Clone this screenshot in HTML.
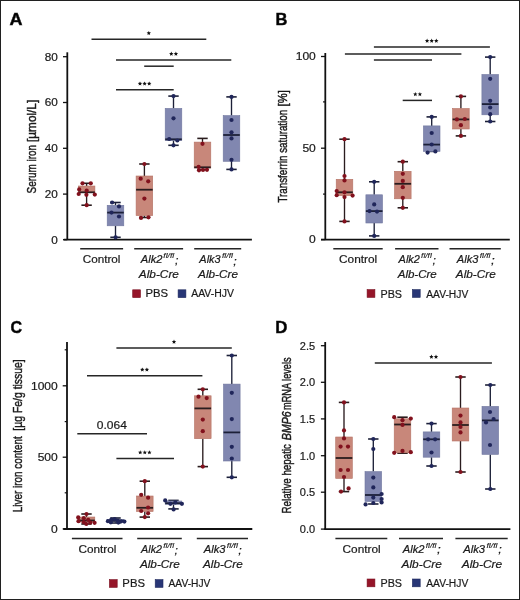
<!DOCTYPE html>
<html><head><meta charset="utf-8"><style>
html,body{margin:0;padding:0;background:#fff;}
body{width:520px;height:600px;overflow:hidden;}
svg{display:block;font-family:"Liberation Sans", sans-serif;}
svg{will-change:transform;}
text{stroke:#1a1a1a;stroke-width:0.2px;}
</style></head><body>
<svg width="520" height="600" viewBox="0 0 520 600">
<rect x="0" y="0" width="520" height="600" fill="#fff"/>
<text transform="translate(9.61,25.00) scale(1.0892,1.0000)" font-size="16.5" font-weight="bold" style="stroke-width:0.5px" fill="#000">A</text>
<line x1="67.3" y1="52.3" x2="67.3" y2="239.7" stroke="#111111" stroke-width="1.8"/>
<line x1="63.0" y1="56.7" x2="67.3" y2="56.7" stroke="#111111" stroke-width="1.3"/>
<line x1="63.0" y1="102.5" x2="67.3" y2="102.5" stroke="#111111" stroke-width="1.3"/>
<line x1="63.0" y1="148.3" x2="67.3" y2="148.3" stroke="#111111" stroke-width="1.3"/>
<line x1="63.0" y1="194.1" x2="67.3" y2="194.1" stroke="#111111" stroke-width="1.3"/>
<line x1="63.0" y1="239.7" x2="67.3" y2="239.7" stroke="#111111" stroke-width="1.3"/>
<text transform="translate(57.69,60.65) scale(1.12,1)" font-size="10.5" text-anchor="end" fill="#1a1a1a">80</text>
<text transform="translate(57.69,106.45) scale(1.12,1)" font-size="10.5" text-anchor="end" fill="#1a1a1a">60</text>
<text transform="translate(57.69,152.25) scale(1.12,1)" font-size="10.5" text-anchor="end" fill="#1a1a1a">40</text>
<text transform="translate(57.69,198.05) scale(1.12,1)" font-size="10.5" text-anchor="end" fill="#1a1a1a">20</text>
<text transform="translate(57.69,243.65) scale(1.12,1)" font-size="10.5" text-anchor="end" fill="#1a1a1a">0</text>
<line x1="63.8" y1="239.7" x2="251.9" y2="239.7" stroke="#111111" stroke-width="1.8"/>
<text transform="translate(36.00,193.43) rotate(-90) scale(0.7362,1.0000)" font-size="13.5" style="stroke-width:0.45px" fill="#1a1a1a">Serum iron</text>
<text transform="translate(36.00,142.00) rotate(-90) scale(0.8744,1.0000)" font-size="13.5" style="stroke-width:0.45px" fill="#1a1a1a">[µmol/L]</text>
<line x1="91.5" y1="39.3" x2="206.3" y2="39.3" stroke="#262626" stroke-width="1.5"/>
<polygon points="148.80,30.90 149.42,32.35 150.99,32.49 149.80,33.52 150.15,35.06 148.80,34.25 147.45,35.06 147.80,33.52 146.61,32.49 148.18,32.35" fill="#111"/>
<line x1="116" y1="60" x2="231.3" y2="60" stroke="#262626" stroke-width="1.5"/>
<polygon points="171.30,51.60 171.92,53.05 173.49,53.19 172.30,54.22 172.65,55.76 171.30,54.95 169.95,55.76 170.30,54.22 169.11,53.19 170.68,53.05" fill="#111"/>
<polygon points="175.90,51.60 176.52,53.05 178.09,53.19 176.90,54.22 177.25,55.76 175.90,54.95 174.55,55.76 174.90,54.22 173.71,53.19 175.28,53.05" fill="#111"/>
<line x1="144.2" y1="66.2" x2="173.7" y2="66.2" stroke="#262626" stroke-width="1.5"/>
<line x1="116" y1="89.8" x2="173.7" y2="89.8" stroke="#262626" stroke-width="1.5"/>
<polygon points="140.00,81.40 140.62,82.85 142.19,82.99 141.00,84.02 141.35,85.56 140.00,84.75 138.65,85.56 139.00,84.02 137.81,82.99 139.38,82.85" fill="#111"/>
<polygon points="144.60,81.40 145.22,82.85 146.79,82.99 145.60,84.02 145.95,85.56 144.60,84.75 143.25,85.56 143.60,84.02 142.41,82.99 143.98,82.85" fill="#111"/>
<polygon points="149.20,81.40 149.82,82.85 151.39,82.99 150.20,84.02 150.55,85.56 149.20,84.75 147.85,85.56 148.20,84.02 147.01,82.99 148.58,82.85" fill="#111"/>
<line x1="86.6" y1="183.3" x2="86.6" y2="186" stroke="#2a1c1e" stroke-width="1.35"/>
<line x1="86.6" y1="192.3" x2="86.6" y2="205.2" stroke="#2a1c1e" stroke-width="1.35"/>
<line x1="81.39999999999999" y1="183.3" x2="91.8" y2="183.3" stroke="#2a1c1e" stroke-width="1.6"/>
<line x1="81.39999999999999" y1="205.2" x2="91.8" y2="205.2" stroke="#2a1c1e" stroke-width="1.6"/>
<rect x="78.30" y="186" width="16.6" height="6.30" fill="#c8877a" stroke="#b57264" stroke-width="0.6"/>
<line x1="78.3" y1="192.3" x2="94.89999999999999" y2="192.3" stroke="#2a1c1e" stroke-width="1.8"/>
<circle cx="82.5" cy="183.3" r="2.1" fill="#82111d"/>
<circle cx="90.8" cy="183.3" r="2.1" fill="#82111d"/>
<circle cx="79.2" cy="189.4" r="2.1" fill="#82111d"/>
<circle cx="86.7" cy="190.6" r="2.1" fill="#82111d"/>
<circle cx="78.7" cy="194" r="2.1" fill="#82111d"/>
<circle cx="86.4" cy="194.8" r="2.1" fill="#82111d"/>
<circle cx="94.8" cy="194.6" r="2.1" fill="#82111d"/>
<circle cx="86.7" cy="205.2" r="2.1" fill="#82111d"/>
<line x1="115.5" y1="202.5" x2="115.5" y2="205.3" stroke="#1c2038" stroke-width="1.35"/>
<line x1="115.5" y1="225.8" x2="115.5" y2="237.3" stroke="#1c2038" stroke-width="1.35"/>
<line x1="110.3" y1="202.5" x2="120.7" y2="202.5" stroke="#1c2038" stroke-width="1.6"/>
<line x1="110.3" y1="237.3" x2="120.7" y2="237.3" stroke="#1c2038" stroke-width="1.6"/>
<rect x="107.20" y="205.3" width="16.6" height="20.50" fill="#8187b0" stroke="#71779f" stroke-width="0.6"/>
<line x1="107.2" y1="212.6" x2="123.8" y2="212.6" stroke="#1c2038" stroke-width="1.8"/>
<circle cx="112.1" cy="202.5" r="2.1" fill="#20265a"/>
<circle cx="119" cy="206.4" r="2.1" fill="#20265a"/>
<circle cx="111.5" cy="212.6" r="2.1" fill="#20265a"/>
<circle cx="119" cy="216.5" r="2.1" fill="#20265a"/>
<circle cx="115.6" cy="237.3" r="2.1" fill="#20265a"/>
<line x1="144.4" y1="164" x2="144.4" y2="176" stroke="#2a1c1e" stroke-width="1.35"/>
<line x1="144.4" y1="215.6" x2="144.4" y2="217.5" stroke="#2a1c1e" stroke-width="1.35"/>
<line x1="139.20000000000002" y1="164" x2="149.6" y2="164" stroke="#2a1c1e" stroke-width="1.6"/>
<line x1="139.20000000000002" y1="217.5" x2="149.6" y2="217.5" stroke="#2a1c1e" stroke-width="1.6"/>
<rect x="136.10" y="176" width="16.6" height="39.60" fill="#c8877a" stroke="#b57264" stroke-width="0.6"/>
<line x1="136.1" y1="189.7" x2="152.70000000000002" y2="189.7" stroke="#2a1c1e" stroke-width="1.8"/>
<circle cx="144.4" cy="164" r="2.1" fill="#82111d"/>
<circle cx="140.7" cy="178.7" r="2.1" fill="#82111d"/>
<circle cx="148.2" cy="181.3" r="2.1" fill="#82111d"/>
<circle cx="144.4" cy="198.6" r="2.1" fill="#82111d"/>
<circle cx="141" cy="217.9" r="2.1" fill="#82111d"/>
<circle cx="148.5" cy="217.3" r="2.1" fill="#82111d"/>
<line x1="173.5" y1="96.1" x2="173.5" y2="108.4" stroke="#1c2038" stroke-width="1.35"/>
<line x1="173.5" y1="140.6" x2="173.5" y2="145.3" stroke="#1c2038" stroke-width="1.35"/>
<line x1="168.3" y1="96.1" x2="178.7" y2="96.1" stroke="#1c2038" stroke-width="1.6"/>
<line x1="168.3" y1="145.3" x2="178.7" y2="145.3" stroke="#1c2038" stroke-width="1.6"/>
<rect x="165.20" y="108.4" width="16.6" height="32.20" fill="#8187b0" stroke="#71779f" stroke-width="0.6"/>
<line x1="165.2" y1="139.3" x2="181.8" y2="139.3" stroke="#1c2038" stroke-width="1.8"/>
<circle cx="173.5" cy="96.1" r="2.1" fill="#20265a"/>
<circle cx="173.5" cy="118.3" r="2.1" fill="#20265a"/>
<circle cx="169.2" cy="139" r="2.1" fill="#20265a"/>
<circle cx="177.3" cy="140.5" r="2.1" fill="#20265a"/>
<circle cx="173.5" cy="145.3" r="2.1" fill="#20265a"/>
<line x1="202.5" y1="138.4" x2="202.5" y2="142.1" stroke="#2a1c1e" stroke-width="1.35"/>
<line x1="202.5" y1="168" x2="202.5" y2="169.5" stroke="#2a1c1e" stroke-width="1.35"/>
<line x1="197.3" y1="138.4" x2="207.7" y2="138.4" stroke="#2a1c1e" stroke-width="1.6"/>
<line x1="197.3" y1="169.5" x2="207.7" y2="169.5" stroke="#2a1c1e" stroke-width="1.6"/>
<rect x="194.20" y="142.1" width="16.6" height="25.90" fill="#c8877a" stroke="#b57264" stroke-width="0.6"/>
<line x1="194.2" y1="167.3" x2="210.8" y2="167.3" stroke="#2a1c1e" stroke-width="1.8"/>
<circle cx="202.5" cy="143.8" r="2.1" fill="#82111d"/>
<circle cx="198.6" cy="166.8" r="2.1" fill="#82111d"/>
<circle cx="199" cy="170.3" r="2.1" fill="#82111d"/>
<circle cx="203" cy="170" r="2.1" fill="#82111d"/>
<circle cx="207" cy="169.8" r="2.1" fill="#82111d"/>
<line x1="231.5" y1="96.9" x2="231.5" y2="115.6" stroke="#1c2038" stroke-width="1.35"/>
<line x1="231.5" y1="161.3" x2="231.5" y2="169.4" stroke="#1c2038" stroke-width="1.35"/>
<line x1="226.3" y1="96.9" x2="236.7" y2="96.9" stroke="#1c2038" stroke-width="1.6"/>
<line x1="226.3" y1="169.4" x2="236.7" y2="169.4" stroke="#1c2038" stroke-width="1.6"/>
<rect x="223.20" y="115.6" width="16.6" height="45.70" fill="#8187b0" stroke="#71779f" stroke-width="0.6"/>
<line x1="223.2" y1="135" x2="239.8" y2="135" stroke="#1c2038" stroke-width="1.8"/>
<circle cx="231.5" cy="96.9" r="2.1" fill="#20265a"/>
<circle cx="231.5" cy="120" r="2.1" fill="#20265a"/>
<circle cx="231.5" cy="132.3" r="2.1" fill="#20265a"/>
<circle cx="231.5" cy="138.4" r="2.1" fill="#20265a"/>
<circle cx="231.5" cy="159.8" r="2.1" fill="#20265a"/>
<circle cx="231.5" cy="169.4" r="2.1" fill="#20265a"/>
<line x1="80.2" y1="248.8" x2="123.1" y2="248.8" stroke="#262626" stroke-width="1.5"/>
<line x1="134.2" y1="248.8" x2="183.1" y2="248.8" stroke="#262626" stroke-width="1.5"/>
<line x1="194.2" y1="248.8" x2="241.2" y2="248.8" stroke="#262626" stroke-width="1.5"/>
<text transform="translate(82.68,263.41) scale(1.0852,1.0000)" font-size="10.8" fill="#1a1a1a">Control</text>
<text transform="translate(140.79,263.30) scale(1.0347,1.0000)" font-size="10.8" font-style="italic" fill="#1a1a1a">Alk2</text>
<text transform="translate(163.25,258.04) scale(1.2726,1.0000)" font-size="6.8" font-style="italic" style="stroke-width:0.12px" fill="#1a1a1a">fl/fl</text>
<text transform="translate(175.01,263.70) scale(1.1391,1.0000)" font-size="10.8" font-style="italic" fill="#1a1a1a">;</text>
<text transform="translate(199.37,263.30) scale(1.0147,1.0000)" font-size="10.8" font-style="italic" fill="#1a1a1a">Alk3</text>
<text transform="translate(221.94,258.01) scale(1.2724,1.0000)" font-size="6.8" font-style="italic" style="stroke-width:0.12px" fill="#1a1a1a">fl/fl</text>
<text transform="translate(233.32,264.52) scale(1.1372,1.0000)" font-size="10.8" font-style="italic" fill="#1a1a1a">;</text>
<text transform="translate(138.83,277.90) scale(1.0959,1.0000)" font-size="10.8" font-style="italic" fill="#1a1a1a">Alb-Cre</text>
<text transform="translate(198.08,277.90) scale(1.0890,1.0000)" font-size="10.8" font-style="italic" fill="#1a1a1a">Alb-Cre</text>
<text transform="translate(145.50,297.30) scale(1.0465,1.0000)" font-size="10.8" fill="#1a1a1a">PBS</text>
<text transform="translate(191.20,297.30) scale(0.9681,1.0000)" font-size="10.8" fill="#1a1a1a">AAV-HJV</text>
<rect x="132.70000000000002" y="289.8" width="7.800000000000001" height="7.800000000000001" fill="#951529" stroke="#7a0f20" stroke-width="0.6"/>
<rect x="178.10000000000002" y="289.8" width="7.800000000000001" height="7.800000000000001" fill="#283676" stroke="#1f2a5e" stroke-width="0.6"/>
<text transform="translate(275.42,24.50) scale(0.9981,1.0000)" font-size="16.5" font-weight="bold" style="stroke-width:0.5px" fill="#000">B</text>
<line x1="325.3" y1="53" x2="325.3" y2="239.6" stroke="#111111" stroke-width="1.8"/>
<line x1="321.0" y1="56.5" x2="325.3" y2="56.5" stroke="#111111" stroke-width="1.3"/>
<line x1="321.0" y1="148.2" x2="325.3" y2="148.2" stroke="#111111" stroke-width="1.3"/>
<line x1="321.0" y1="239.6" x2="325.3" y2="239.6" stroke="#111111" stroke-width="1.3"/>
<line x1="323.0" y1="101.9" x2="325.3" y2="101.9" stroke="#111111" stroke-width="1.2"/>
<line x1="323.0" y1="194.1" x2="325.3" y2="194.1" stroke="#111111" stroke-width="1.2"/>
<text transform="translate(315.80,59.90) scale(1.15,1)" font-size="10.5" text-anchor="end" fill="#1a1a1a">100</text>
<text transform="translate(315.80,151.60) scale(1.15,1)" font-size="10.5" text-anchor="end" fill="#1a1a1a">50</text>
<text transform="translate(315.80,243.00) scale(1.15,1)" font-size="10.5" text-anchor="end" fill="#1a1a1a">0</text>
<line x1="321" y1="239.6" x2="509.8" y2="239.6" stroke="#111111" stroke-width="1.8"/>
<text transform="translate(287.00,202.55) rotate(-90) scale(0.7266,1.0000)" font-size="13.5" style="stroke-width:0.45px" fill="#1a1a1a">Transferrin saturation</text>
<text transform="translate(287.00,106.39) rotate(-90) scale(0.8310,1.0000)" font-size="13.5" style="stroke-width:0.45px" fill="#1a1a1a">[%]</text>
<line x1="373.9" y1="47" x2="489.9" y2="47" stroke="#262626" stroke-width="1.5"/>
<polygon points="427.10,38.60 427.72,40.05 429.29,40.19 428.10,41.22 428.45,42.76 427.10,41.95 425.75,42.76 426.10,41.22 424.91,40.19 426.48,40.05" fill="#111"/>
<polygon points="431.70,38.60 432.32,40.05 433.89,40.19 432.70,41.22 433.05,42.76 431.70,41.95 430.35,42.76 430.70,41.22 429.51,40.19 431.08,40.05" fill="#111"/>
<polygon points="436.30,38.60 436.92,40.05 438.49,40.19 437.30,41.22 437.65,42.76 436.30,41.95 434.95,42.76 435.30,41.22 434.11,40.19 435.68,40.05" fill="#111"/>
<line x1="344.9" y1="53.9" x2="461.4" y2="53.9" stroke="#262626" stroke-width="1.5"/>
<line x1="373.9" y1="60" x2="432" y2="60" stroke="#262626" stroke-width="1.5"/>
<line x1="402.7" y1="100.4" x2="432" y2="100.4" stroke="#262626" stroke-width="1.5"/>
<polygon points="415.30,92.00 415.92,93.45 417.49,93.59 416.30,94.62 416.65,96.16 415.30,95.35 413.95,96.16 414.30,94.62 413.11,93.59 414.68,93.45" fill="#111"/>
<polygon points="419.90,92.00 420.52,93.45 422.09,93.59 420.90,94.62 421.25,96.16 419.90,95.35 418.55,96.16 418.90,94.62 417.71,93.59 419.28,93.45" fill="#111"/>
<line x1="344.5" y1="139.2" x2="344.5" y2="179.3" stroke="#2a1c1e" stroke-width="1.35"/>
<line x1="344.5" y1="195.6" x2="344.5" y2="221.4" stroke="#2a1c1e" stroke-width="1.35"/>
<line x1="339.3" y1="139.2" x2="349.7" y2="139.2" stroke="#2a1c1e" stroke-width="1.6"/>
<line x1="339.3" y1="221.4" x2="349.7" y2="221.4" stroke="#2a1c1e" stroke-width="1.6"/>
<rect x="336.20" y="179.3" width="16.6" height="16.30" fill="#c8877a" stroke="#b57264" stroke-width="0.6"/>
<line x1="336.2" y1="192.3" x2="352.8" y2="192.3" stroke="#2a1c1e" stroke-width="1.8"/>
<circle cx="344.5" cy="139.2" r="2.1" fill="#82111d"/>
<circle cx="344.5" cy="176" r="2.1" fill="#82111d"/>
<circle cx="344.5" cy="180.4" r="2.1" fill="#82111d"/>
<circle cx="336.7" cy="191" r="2.1" fill="#82111d"/>
<circle cx="344.5" cy="192.3" r="2.1" fill="#82111d"/>
<circle cx="336.7" cy="195.2" r="2.1" fill="#82111d"/>
<circle cx="352.6" cy="195.6" r="2.1" fill="#82111d"/>
<circle cx="344.5" cy="197.1" r="2.1" fill="#82111d"/>
<circle cx="344.5" cy="221.4" r="2.1" fill="#82111d"/>
<line x1="374.2" y1="181.8" x2="374.2" y2="194.8" stroke="#1c2038" stroke-width="1.35"/>
<line x1="374.2" y1="223" x2="374.2" y2="235.9" stroke="#1c2038" stroke-width="1.35"/>
<line x1="369.0" y1="181.8" x2="379.4" y2="181.8" stroke="#1c2038" stroke-width="1.6"/>
<line x1="369.0" y1="235.9" x2="379.4" y2="235.9" stroke="#1c2038" stroke-width="1.6"/>
<rect x="365.90" y="194.8" width="16.6" height="28.20" fill="#8187b0" stroke="#71779f" stroke-width="0.6"/>
<line x1="365.9" y1="211.1" x2="382.5" y2="211.1" stroke="#1c2038" stroke-width="1.8"/>
<circle cx="374.2" cy="181.8" r="2.1" fill="#20265a"/>
<circle cx="374.2" cy="204.4" r="2.1" fill="#20265a"/>
<circle cx="369.5" cy="211.1" r="2.1" fill="#20265a"/>
<circle cx="377" cy="211.6" r="2.1" fill="#20265a"/>
<circle cx="374.2" cy="235.9" r="2.1" fill="#20265a"/>
<line x1="402.8" y1="161.7" x2="402.8" y2="171.3" stroke="#2a1c1e" stroke-width="1.35"/>
<line x1="402.8" y1="198.8" x2="402.8" y2="207.8" stroke="#2a1c1e" stroke-width="1.35"/>
<line x1="397.6" y1="161.7" x2="408.0" y2="161.7" stroke="#2a1c1e" stroke-width="1.6"/>
<line x1="397.6" y1="207.8" x2="408.0" y2="207.8" stroke="#2a1c1e" stroke-width="1.6"/>
<rect x="394.50" y="171.3" width="16.6" height="27.50" fill="#c8877a" stroke="#b57264" stroke-width="0.6"/>
<line x1="394.5" y1="183.8" x2="411.1" y2="183.8" stroke="#2a1c1e" stroke-width="1.8"/>
<circle cx="402.8" cy="161.7" r="2.1" fill="#82111d"/>
<circle cx="402.8" cy="173.8" r="2.1" fill="#82111d"/>
<circle cx="402.8" cy="180.9" r="2.1" fill="#82111d"/>
<circle cx="402.8" cy="187.2" r="2.1" fill="#82111d"/>
<circle cx="402.8" cy="197.8" r="2.1" fill="#82111d"/>
<circle cx="402.8" cy="207.8" r="2.1" fill="#82111d"/>
<line x1="431.7" y1="116.9" x2="431.7" y2="125.9" stroke="#1c2038" stroke-width="1.35"/>
<line x1="431.7" y1="151.4" x2="431.7" y2="151.4" stroke="#1c2038" stroke-width="1.35"/>
<line x1="426.5" y1="116.9" x2="436.9" y2="116.9" stroke="#1c2038" stroke-width="1.6"/>
<line x1="426.5" y1="151.4" x2="436.9" y2="151.4" stroke="#1c2038" stroke-width="1.6"/>
<rect x="423.40" y="125.9" width="16.6" height="25.50" fill="#8187b0" stroke="#71779f" stroke-width="0.6"/>
<line x1="423.4" y1="144.6" x2="440.0" y2="144.6" stroke="#1c2038" stroke-width="1.8"/>
<circle cx="431.7" cy="116.9" r="2.1" fill="#20265a"/>
<circle cx="431.7" cy="133" r="2.1" fill="#20265a"/>
<circle cx="431.7" cy="144.5" r="2.1" fill="#20265a"/>
<circle cx="427.6" cy="152.6" r="2.1" fill="#20265a"/>
<circle cx="435.4" cy="151.4" r="2.1" fill="#20265a"/>
<line x1="460.9" y1="96.4" x2="460.9" y2="108.5" stroke="#2a1c1e" stroke-width="1.35"/>
<line x1="460.9" y1="129" x2="460.9" y2="135.9" stroke="#2a1c1e" stroke-width="1.35"/>
<line x1="455.7" y1="96.4" x2="466.09999999999997" y2="96.4" stroke="#2a1c1e" stroke-width="1.6"/>
<line x1="455.7" y1="135.9" x2="466.09999999999997" y2="135.9" stroke="#2a1c1e" stroke-width="1.6"/>
<rect x="452.60" y="108.5" width="16.6" height="20.50" fill="#c8877a" stroke="#b57264" stroke-width="0.6"/>
<line x1="452.59999999999997" y1="119.4" x2="469.2" y2="119.4" stroke="#2a1c1e" stroke-width="1.8"/>
<circle cx="460.9" cy="96.4" r="2.1" fill="#82111d"/>
<circle cx="456.9" cy="119.4" r="2.1" fill="#82111d"/>
<circle cx="464.8" cy="119" r="2.1" fill="#82111d"/>
<circle cx="460.9" cy="125.2" r="2.1" fill="#82111d"/>
<circle cx="460.9" cy="135.9" r="2.1" fill="#82111d"/>
<line x1="490.2" y1="57.1" x2="490.2" y2="74.5" stroke="#1c2038" stroke-width="1.35"/>
<line x1="490.2" y1="114.8" x2="490.2" y2="121.5" stroke="#1c2038" stroke-width="1.35"/>
<line x1="485.0" y1="57.1" x2="495.4" y2="57.1" stroke="#1c2038" stroke-width="1.6"/>
<line x1="485.0" y1="121.5" x2="495.4" y2="121.5" stroke="#1c2038" stroke-width="1.6"/>
<rect x="481.90" y="74.5" width="16.6" height="40.30" fill="#8187b0" stroke="#71779f" stroke-width="0.6"/>
<line x1="481.9" y1="104.1" x2="498.5" y2="104.1" stroke="#1c2038" stroke-width="1.8"/>
<circle cx="490.2" cy="57.1" r="2.1" fill="#20265a"/>
<circle cx="490.2" cy="78.8" r="2.1" fill="#20265a"/>
<circle cx="490.2" cy="100.8" r="2.1" fill="#20265a"/>
<circle cx="490.2" cy="107.5" r="2.1" fill="#20265a"/>
<circle cx="490.2" cy="114.2" r="2.1" fill="#20265a"/>
<circle cx="490.2" cy="121.5" r="2.1" fill="#20265a"/>
<line x1="333.3" y1="248.7" x2="382.7" y2="248.7" stroke="#262626" stroke-width="1.5"/>
<line x1="395.1" y1="248.7" x2="438.5" y2="248.7" stroke="#262626" stroke-width="1.5"/>
<line x1="449.5" y1="248.7" x2="500.8" y2="248.7" stroke="#262626" stroke-width="1.5"/>
<text transform="translate(339.01,263.13) scale(1.0972,1.0000)" font-size="10.8" fill="#1a1a1a">Control</text>
<text transform="translate(398.61,263.30) scale(1.0147,1.0000)" font-size="10.8" font-style="italic" fill="#1a1a1a">Alk2</text>
<text transform="translate(421.04,257.96) scale(1.2392,1.0000)" font-size="6.8" font-style="italic" style="stroke-width:0.12px" fill="#1a1a1a">fl/fl</text>
<text transform="translate(432.39,264.49) scale(1.1292,1.0000)" font-size="10.8" font-style="italic" fill="#1a1a1a">;</text>
<text transform="translate(456.78,263.30) scale(1.0312,1.0000)" font-size="10.8" font-style="italic" fill="#1a1a1a">Alk3</text>
<text transform="translate(479.63,258.06) scale(1.2543,1.0000)" font-size="6.8" font-style="italic" style="stroke-width:0.12px" fill="#1a1a1a">fl/fl</text>
<text transform="translate(491.08,263.76) scale(1.2251,1.0000)" font-size="10.8" font-style="italic" fill="#1a1a1a">;</text>
<text transform="translate(397.70,277.90) scale(1.0675,1.0000)" font-size="10.8" font-style="italic" fill="#1a1a1a">Alb-Cre</text>
<text transform="translate(455.87,277.90) scale(1.0895,1.0000)" font-size="10.8" font-style="italic" fill="#1a1a1a">Alb-Cre</text>
<text transform="translate(380.50,297.50) scale(0.9970,1.0000)" font-size="10.8" fill="#1a1a1a">PBS</text>
<text transform="translate(426.22,297.50) scale(0.9527,1.0000)" font-size="10.8" fill="#1a1a1a">AAV-HJV</text>
<rect x="367.1" y="289.6" width="7.800000000000001" height="7.800000000000001" fill="#951529" stroke="#7a0f20" stroke-width="0.6"/>
<rect x="412.40000000000003" y="289.6" width="7.800000000000001" height="7.800000000000001" fill="#283676" stroke="#1f2a5e" stroke-width="0.6"/>
<text transform="translate(10.49,332.95) scale(0.9687,1.0000)" font-size="16.5" font-weight="bold" style="stroke-width:0.5px" fill="#000">C</text>
<line x1="67" y1="342" x2="67" y2="529" stroke="#111111" stroke-width="1.8"/>
<line x1="62.7" y1="385.8" x2="67" y2="385.8" stroke="#111111" stroke-width="1.3"/>
<line x1="62.7" y1="457.2" x2="67" y2="457.2" stroke="#111111" stroke-width="1.3"/>
<line x1="62.7" y1="528.9" x2="67" y2="528.9" stroke="#111111" stroke-width="1.3"/>
<line x1="64.7" y1="349.8" x2="67" y2="349.8" stroke="#111111" stroke-width="1.2"/>
<line x1="64.7" y1="421.6" x2="67" y2="421.6" stroke="#111111" stroke-width="1.2"/>
<line x1="64.7" y1="492.8" x2="67" y2="492.8" stroke="#111111" stroke-width="1.2"/>
<text transform="translate(57.73,389.70) scale(1.147,1)" font-size="10.5" text-anchor="end" fill="#1a1a1a">1000</text>
<text transform="translate(57.73,461.10) scale(1.147,1)" font-size="10.5" text-anchor="end" fill="#1a1a1a">500</text>
<text transform="translate(57.73,532.80) scale(1.147,1)" font-size="10.5" text-anchor="end" fill="#1a1a1a">0</text>
<line x1="63.3" y1="529" x2="252.3" y2="529" stroke="#111111" stroke-width="1.8"/>
<text transform="translate(22.10,512.16) rotate(-90) scale(0.7324,1.0000)" font-size="13.5" style="stroke-width:0.45px" fill="#1a1a1a">Liver iron content</text>
<text transform="translate(22.10,430.66) rotate(-90) scale(0.7717,1.0000)" font-size="13.5" style="stroke-width:0.45px" fill="#1a1a1a">[µg Fe/g tissue]</text>
<line x1="116.4" y1="348" x2="231.8" y2="348" stroke="#262626" stroke-width="1.5"/>
<polygon points="174.00,339.60 174.62,341.05 176.19,341.19 175.00,342.22 175.35,343.76 174.00,342.95 172.65,343.76 173.00,342.22 171.81,341.19 173.38,341.05" fill="#111"/>
<line x1="87" y1="375.8" x2="202.4" y2="375.8" stroke="#262626" stroke-width="1.5"/>
<polygon points="142.30,367.40 142.92,368.85 144.49,368.99 143.30,370.02 143.65,371.56 142.30,370.75 140.95,371.56 141.30,370.02 140.11,368.99 141.68,368.85" fill="#111"/>
<polygon points="146.90,367.40 147.52,368.85 149.09,368.99 147.90,370.02 148.25,371.56 146.90,370.75 145.55,371.56 145.90,370.02 144.71,368.99 146.28,368.85" fill="#111"/>
<line x1="77.3" y1="433.8" x2="147" y2="433.8" stroke="#262626" stroke-width="1.5"/>
<text transform="translate(96.82,429.14) scale(1.1144,1.0000)" font-size="10.8" fill="#1a1a1a">0.064</text>
<line x1="116.4" y1="458.6" x2="174" y2="458.6" stroke="#262626" stroke-width="1.5"/>
<polygon points="140.20,450.20 140.82,451.65 142.39,451.79 141.20,452.82 141.55,454.36 140.20,453.55 138.85,454.36 139.20,452.82 138.01,451.79 139.58,451.65" fill="#111"/>
<polygon points="144.80,450.20 145.42,451.65 146.99,451.79 145.80,452.82 146.15,454.36 144.80,453.55 143.45,454.36 143.80,452.82 142.61,451.79 144.18,451.65" fill="#111"/>
<polygon points="149.40,450.20 150.02,451.65 151.59,451.79 150.40,452.82 150.75,454.36 149.40,453.55 148.05,454.36 148.40,452.82 147.21,451.79 148.78,451.65" fill="#111"/>
<line x1="86.5" y1="514" x2="86.5" y2="517" stroke="#2a1c1e" stroke-width="1.35"/>
<line x1="86.5" y1="522" x2="86.5" y2="524" stroke="#2a1c1e" stroke-width="1.35"/>
<line x1="81.3" y1="514" x2="91.7" y2="514" stroke="#2a1c1e" stroke-width="1.6"/>
<line x1="81.3" y1="524" x2="91.7" y2="524" stroke="#2a1c1e" stroke-width="1.6"/>
<rect x="78.20" y="517" width="16.6" height="5.00" fill="#c8877a" stroke="#b57264" stroke-width="0.6"/>
<line x1="78.2" y1="520.5" x2="94.8" y2="520.5" stroke="#2a1c1e" stroke-width="1.8"/>
<circle cx="86.5" cy="514" r="2.1" fill="#82111d"/>
<circle cx="78.2" cy="517.4" r="2.1" fill="#82111d"/>
<circle cx="78.5" cy="521.2" r="2.1" fill="#82111d"/>
<circle cx="83.8" cy="518.2" r="2.1" fill="#82111d"/>
<circle cx="83.8" cy="522.2" r="2.1" fill="#82111d"/>
<circle cx="88.2" cy="519.8" r="2.1" fill="#82111d"/>
<circle cx="90.3" cy="522.6" r="2.1" fill="#82111d"/>
<circle cx="94.6" cy="522.8" r="2.1" fill="#82111d"/>
<circle cx="86.3" cy="524" r="2.1" fill="#82111d"/>
<line x1="115.5" y1="518" x2="115.5" y2="519.5" stroke="#1c2038" stroke-width="1.35"/>
<line x1="115.5" y1="522" x2="115.5" y2="523" stroke="#1c2038" stroke-width="1.35"/>
<line x1="110.3" y1="518" x2="120.7" y2="518" stroke="#1c2038" stroke-width="1.6"/>
<line x1="110.3" y1="523" x2="120.7" y2="523" stroke="#1c2038" stroke-width="1.6"/>
<rect x="107.20" y="519.5" width="16.6" height="2.50" fill="#8187b0" stroke="#71779f" stroke-width="0.6"/>
<line x1="107.2" y1="520.8" x2="123.8" y2="520.8" stroke="#1c2038" stroke-width="1.8"/>
<circle cx="107.9" cy="521.2" r="2.1" fill="#20265a"/>
<circle cx="111.3" cy="519.6" r="2.1" fill="#20265a"/>
<circle cx="114.7" cy="519.2" r="2.1" fill="#20265a"/>
<circle cx="117.8" cy="520.5" r="2.1" fill="#20265a"/>
<circle cx="121.2" cy="521.3" r="2.1" fill="#20265a"/>
<circle cx="124.4" cy="521.6" r="2.1" fill="#20265a"/>
<circle cx="110.8" cy="522.3" r="2.1" fill="#20265a"/>
<circle cx="118.3" cy="522.6" r="2.1" fill="#20265a"/>
<line x1="144.8" y1="481.2" x2="144.8" y2="496" stroke="#2a1c1e" stroke-width="1.35"/>
<line x1="144.8" y1="511.5" x2="144.8" y2="517.1" stroke="#2a1c1e" stroke-width="1.35"/>
<line x1="139.60000000000002" y1="481.2" x2="150.0" y2="481.2" stroke="#2a1c1e" stroke-width="1.6"/>
<line x1="139.60000000000002" y1="517.1" x2="150.0" y2="517.1" stroke="#2a1c1e" stroke-width="1.6"/>
<rect x="136.50" y="496" width="16.6" height="15.50" fill="#c8877a" stroke="#b57264" stroke-width="0.6"/>
<line x1="136.5" y1="507.8" x2="153.10000000000002" y2="507.8" stroke="#2a1c1e" stroke-width="1.8"/>
<circle cx="144.8" cy="481.2" r="2.1" fill="#82111d"/>
<circle cx="141.2" cy="494.8" r="2.1" fill="#82111d"/>
<circle cx="148.1" cy="497.7" r="2.1" fill="#82111d"/>
<circle cx="148.1" cy="507.5" r="2.1" fill="#82111d"/>
<circle cx="141.2" cy="511" r="2.1" fill="#82111d"/>
<circle cx="148.1" cy="513.3" r="2.1" fill="#82111d"/>
<circle cx="144.8" cy="517.1" r="2.1" fill="#82111d"/>
<line x1="173.5" y1="500.4" x2="173.5" y2="501" stroke="#1c2038" stroke-width="1.35"/>
<line x1="173.5" y1="504.3" x2="173.5" y2="508.9" stroke="#1c2038" stroke-width="1.35"/>
<line x1="168.3" y1="500.4" x2="178.7" y2="500.4" stroke="#1c2038" stroke-width="1.6"/>
<line x1="168.3" y1="508.9" x2="178.7" y2="508.9" stroke="#1c2038" stroke-width="1.6"/>
<rect x="165.20" y="501" width="16.6" height="3.30" fill="#8187b0" stroke="#71779f" stroke-width="0.6"/>
<line x1="165.2" y1="503.2" x2="181.8" y2="503.2" stroke="#1c2038" stroke-width="1.8"/>
<circle cx="165.2" cy="500.4" r="2.1" fill="#20265a"/>
<circle cx="170.4" cy="503.8" r="2.1" fill="#20265a"/>
<circle cx="175.3" cy="502.4" r="2.1" fill="#20265a"/>
<circle cx="181.9" cy="503.8" r="2.1" fill="#20265a"/>
<circle cx="173.6" cy="509.4" r="2.1" fill="#20265a"/>
<line x1="202.8" y1="389.3" x2="202.8" y2="395.8" stroke="#2a1c1e" stroke-width="1.35"/>
<line x1="202.8" y1="438.7" x2="202.8" y2="466.6" stroke="#2a1c1e" stroke-width="1.35"/>
<line x1="197.60000000000002" y1="389.3" x2="208.0" y2="389.3" stroke="#2a1c1e" stroke-width="1.6"/>
<line x1="197.60000000000002" y1="466.6" x2="208.0" y2="466.6" stroke="#2a1c1e" stroke-width="1.6"/>
<rect x="194.50" y="395.8" width="16.6" height="42.90" fill="#c8877a" stroke="#b57264" stroke-width="0.6"/>
<line x1="194.5" y1="408.4" x2="211.10000000000002" y2="408.4" stroke="#2a1c1e" stroke-width="1.8"/>
<circle cx="202.8" cy="389.3" r="2.1" fill="#82111d"/>
<circle cx="198.5" cy="396.7" r="2.1" fill="#82111d"/>
<circle cx="206.7" cy="398.1" r="2.1" fill="#82111d"/>
<circle cx="202.8" cy="419.6" r="2.1" fill="#82111d"/>
<circle cx="202.8" cy="431.2" r="2.1" fill="#82111d"/>
<circle cx="202.8" cy="466.6" r="2.1" fill="#82111d"/>
<line x1="231.8" y1="355.5" x2="231.8" y2="384.1" stroke="#1c2038" stroke-width="1.35"/>
<line x1="231.8" y1="461" x2="231.8" y2="477.3" stroke="#1c2038" stroke-width="1.35"/>
<line x1="226.60000000000002" y1="355.5" x2="237.0" y2="355.5" stroke="#1c2038" stroke-width="1.6"/>
<line x1="226.60000000000002" y1="477.3" x2="237.0" y2="477.3" stroke="#1c2038" stroke-width="1.6"/>
<rect x="223.50" y="384.1" width="16.6" height="76.90" fill="#8187b0" stroke="#71779f" stroke-width="0.6"/>
<line x1="223.5" y1="432.4" x2="240.10000000000002" y2="432.4" stroke="#1c2038" stroke-width="1.8"/>
<circle cx="231.8" cy="355.5" r="2.1" fill="#20265a"/>
<circle cx="231.8" cy="392.8" r="2.1" fill="#20265a"/>
<circle cx="231.8" cy="419.1" r="2.1" fill="#20265a"/>
<circle cx="231.8" cy="446.8" r="2.1" fill="#20265a"/>
<circle cx="231.8" cy="458.5" r="2.1" fill="#20265a"/>
<circle cx="231.8" cy="477.3" r="2.1" fill="#20265a"/>
<line x1="71.9" y1="538.6" x2="122.5" y2="538.6" stroke="#262626" stroke-width="1.5"/>
<line x1="137.2" y1="538.6" x2="181.8" y2="538.6" stroke="#262626" stroke-width="1.5"/>
<line x1="196.8" y1="538.6" x2="248" y2="538.6" stroke="#262626" stroke-width="1.5"/>
<text transform="translate(78.42,552.95) scale(1.0907,1.0000)" font-size="10.8" fill="#1a1a1a">Control</text>
<text transform="translate(141.10,553.30) scale(0.9985,1.0000)" font-size="10.8" font-style="italic" fill="#1a1a1a">Alk2</text>
<text transform="translate(163.23,548.00) scale(1.2453,1.0000)" font-size="6.8" font-style="italic" style="stroke-width:0.12px" fill="#1a1a1a">fl/fl</text>
<text transform="translate(174.44,554.27) scale(1.1271,1.0000)" font-size="10.8" font-style="italic" fill="#1a1a1a">;</text>
<text transform="translate(203.79,553.30) scale(1.0389,1.0000)" font-size="10.8" font-style="italic" fill="#1a1a1a">Alk3</text>
<text transform="translate(226.76,547.90) scale(1.2969,1.0000)" font-size="6.8" font-style="italic" style="stroke-width:0.12px" fill="#1a1a1a">fl/fl</text>
<text transform="translate(238.28,553.59) scale(1.1525,1.0000)" font-size="10.8" font-style="italic" fill="#1a1a1a">;</text>
<text transform="translate(139.88,567.70) scale(1.0941,1.0000)" font-size="10.8" font-style="italic" fill="#1a1a1a">Alb-Cre</text>
<text transform="translate(202.96,567.70) scale(1.0886,1.0000)" font-size="10.8" font-style="italic" fill="#1a1a1a">Alb-Cre</text>
<text transform="translate(122.36,586.75) scale(1.0460,1.0000)" font-size="10.8" fill="#1a1a1a">PBS</text>
<text transform="translate(168.51,586.75) scale(0.9482,1.0000)" font-size="10.8" fill="#1a1a1a">AAV-HJV</text>
<rect x="109.39999999999999" y="579.5999999999999" width="7.800000000000001" height="7.800000000000001" fill="#951529" stroke="#7a0f20" stroke-width="0.6"/>
<rect x="155.20000000000002" y="579.5999999999999" width="7.800000000000001" height="7.800000000000001" fill="#283676" stroke="#1f2a5e" stroke-width="0.6"/>
<text transform="translate(275.32,332.95) scale(1.0176,1.0000)" font-size="16.5" font-weight="bold" style="stroke-width:0.5px" fill="#000">D</text>
<line x1="325.2" y1="342" x2="325.2" y2="529.1" stroke="#111111" stroke-width="1.8"/>
<line x1="320.9" y1="345.7" x2="325.2" y2="345.7" stroke="#111111" stroke-width="1.3"/>
<line x1="320.9" y1="382.3" x2="325.2" y2="382.3" stroke="#111111" stroke-width="1.3"/>
<line x1="320.9" y1="418.9" x2="325.2" y2="418.9" stroke="#111111" stroke-width="1.3"/>
<line x1="320.9" y1="455.7" x2="325.2" y2="455.7" stroke="#111111" stroke-width="1.3"/>
<line x1="320.9" y1="492.2" x2="325.2" y2="492.2" stroke="#111111" stroke-width="1.3"/>
<line x1="320.9" y1="529.1" x2="325.2" y2="529.1" stroke="#111111" stroke-width="1.3"/>
<text transform="translate(315.17,349.65) scale(1.049,1)" font-size="10.5" text-anchor="end" fill="#1a1a1a">2.5</text>
<text transform="translate(315.17,386.25) scale(1.049,1)" font-size="10.5" text-anchor="end" fill="#1a1a1a">2.0</text>
<text transform="translate(315.17,422.85) scale(1.049,1)" font-size="10.5" text-anchor="end" fill="#1a1a1a">1.5</text>
<text transform="translate(315.17,459.65) scale(1.049,1)" font-size="10.5" text-anchor="end" fill="#1a1a1a">1.0</text>
<text transform="translate(315.17,496.15) scale(1.049,1)" font-size="10.5" text-anchor="end" fill="#1a1a1a">0.5</text>
<text transform="translate(315.17,533.05) scale(1.049,1)" font-size="10.5" text-anchor="end" fill="#1a1a1a">0.0</text>
<line x1="324.2" y1="529.1" x2="510.4" y2="529.1" stroke="#111111" stroke-width="1.8"/>
<text transform="translate(291.30,513.45) rotate(-90) scale(0.7223,1.0000)" font-size="13.5" style="stroke-width:0.45px" fill="#1a1a1a">Relative hepatic</text>
<text transform="translate(291.30,440.18) rotate(-90) scale(0.7885,1.0000)" font-size="13.5" style="stroke-width:0.45px" fill="#1a1a1a"><tspan font-style="italic">BMP6</tspan></text>
<text transform="translate(291.30,409.94) rotate(-90) scale(0.6798,1.0000)" font-size="13.5" style="stroke-width:0.45px" fill="#1a1a1a">mRNA levels</text>
<line x1="374.8" y1="363" x2="491.9" y2="363" stroke="#262626" stroke-width="1.5"/>
<polygon points="431.40,354.60 432.02,356.05 433.59,356.19 432.40,357.22 432.75,358.76 431.40,357.95 430.05,358.76 430.40,357.22 429.21,356.19 430.78,356.05" fill="#111"/>
<polygon points="436.00,354.60 436.62,356.05 438.19,356.19 437.00,357.22 437.35,358.76 436.00,357.95 434.65,358.76 435.00,357.22 433.81,356.19 435.38,356.05" fill="#111"/>
<line x1="344" y1="402.4" x2="344" y2="437" stroke="#2a1c1e" stroke-width="1.35"/>
<line x1="344" y1="478.4" x2="344" y2="491.6" stroke="#2a1c1e" stroke-width="1.35"/>
<line x1="338.8" y1="402.4" x2="349.2" y2="402.4" stroke="#2a1c1e" stroke-width="1.6"/>
<line x1="338.8" y1="491.6" x2="349.2" y2="491.6" stroke="#2a1c1e" stroke-width="1.6"/>
<rect x="335.70" y="437" width="16.6" height="41.40" fill="#c8877a" stroke="#b57264" stroke-width="0.6"/>
<line x1="335.7" y1="458" x2="352.3" y2="458" stroke="#2a1c1e" stroke-width="1.8"/>
<circle cx="344" cy="402.4" r="2.1" fill="#82111d"/>
<circle cx="344" cy="430.4" r="2.1" fill="#82111d"/>
<circle cx="344" cy="438.4" r="2.1" fill="#82111d"/>
<circle cx="340.6" cy="446.6" r="2.1" fill="#82111d"/>
<circle cx="348" cy="446.6" r="2.1" fill="#82111d"/>
<circle cx="340.6" cy="470" r="2.1" fill="#82111d"/>
<circle cx="348" cy="470" r="2.1" fill="#82111d"/>
<circle cx="344" cy="477" r="2.1" fill="#82111d"/>
<circle cx="348.6" cy="488.4" r="2.1" fill="#82111d"/>
<circle cx="341" cy="491.6" r="2.1" fill="#82111d"/>
<line x1="373.3" y1="439" x2="373.3" y2="471.6" stroke="#1c2038" stroke-width="1.35"/>
<line x1="373.3" y1="501.5" x2="373.3" y2="504" stroke="#1c2038" stroke-width="1.35"/>
<line x1="368.1" y1="439" x2="378.5" y2="439" stroke="#1c2038" stroke-width="1.6"/>
<line x1="368.1" y1="504" x2="378.5" y2="504" stroke="#1c2038" stroke-width="1.6"/>
<rect x="365.00" y="471.6" width="16.6" height="29.90" fill="#8187b0" stroke="#71779f" stroke-width="0.6"/>
<line x1="365.0" y1="495" x2="381.6" y2="495" stroke="#1c2038" stroke-width="1.8"/>
<circle cx="373.3" cy="439" r="2.1" fill="#20265a"/>
<circle cx="373.3" cy="449" r="2.1" fill="#20265a"/>
<circle cx="373.3" cy="477.6" r="2.1" fill="#20265a"/>
<circle cx="373.3" cy="487.4" r="2.1" fill="#20265a"/>
<circle cx="381.6" cy="494" r="2.1" fill="#20265a"/>
<circle cx="373.3" cy="497.6" r="2.1" fill="#20265a"/>
<circle cx="381.6" cy="499" r="2.1" fill="#20265a"/>
<circle cx="381.6" cy="502.4" r="2.1" fill="#20265a"/>
<circle cx="365.6" cy="504.4" r="2.1" fill="#20265a"/>
<circle cx="373.3" cy="503" r="2.1" fill="#20265a"/>
<line x1="402.5" y1="417.2" x2="402.5" y2="418.8" stroke="#2a1c1e" stroke-width="1.35"/>
<line x1="402.5" y1="452.8" x2="402.5" y2="453.2" stroke="#2a1c1e" stroke-width="1.35"/>
<line x1="397.3" y1="417.2" x2="407.7" y2="417.2" stroke="#2a1c1e" stroke-width="1.6"/>
<line x1="397.3" y1="453.2" x2="407.7" y2="453.2" stroke="#2a1c1e" stroke-width="1.6"/>
<rect x="394.20" y="418.8" width="16.6" height="34.00" fill="#c8877a" stroke="#b57264" stroke-width="0.6"/>
<line x1="394.2" y1="424.5" x2="410.8" y2="424.5" stroke="#2a1c1e" stroke-width="1.8"/>
<circle cx="394.2" cy="417.2" r="2.1" fill="#82111d"/>
<circle cx="402.5" cy="420.2" r="2.1" fill="#82111d"/>
<circle cx="410.8" cy="418.6" r="2.1" fill="#82111d"/>
<circle cx="402.5" cy="424.9" r="2.1" fill="#82111d"/>
<circle cx="394.2" cy="452.8" r="2.1" fill="#82111d"/>
<circle cx="402.5" cy="450.9" r="2.1" fill="#82111d"/>
<circle cx="410.8" cy="452.2" r="2.1" fill="#82111d"/>
<line x1="431.5" y1="423.6" x2="431.5" y2="431.9" stroke="#1c2038" stroke-width="1.35"/>
<line x1="431.5" y1="457.2" x2="431.5" y2="466" stroke="#1c2038" stroke-width="1.35"/>
<line x1="426.3" y1="423.6" x2="436.7" y2="423.6" stroke="#1c2038" stroke-width="1.6"/>
<line x1="426.3" y1="466" x2="436.7" y2="466" stroke="#1c2038" stroke-width="1.6"/>
<rect x="423.20" y="431.9" width="16.6" height="25.30" fill="#8187b0" stroke="#71779f" stroke-width="0.6"/>
<line x1="423.2" y1="439.3" x2="439.8" y2="439.3" stroke="#1c2038" stroke-width="1.8"/>
<circle cx="431.5" cy="423.6" r="2.1" fill="#20265a"/>
<circle cx="428.1" cy="439.3" r="2.1" fill="#20265a"/>
<circle cx="435.1" cy="439.3" r="2.1" fill="#20265a"/>
<circle cx="431.5" cy="452.5" r="2.1" fill="#20265a"/>
<circle cx="431.5" cy="466" r="2.1" fill="#20265a"/>
<line x1="460.5" y1="377" x2="460.5" y2="408" stroke="#2a1c1e" stroke-width="1.35"/>
<line x1="460.5" y1="441" x2="460.5" y2="472" stroke="#2a1c1e" stroke-width="1.35"/>
<line x1="455.3" y1="377" x2="465.7" y2="377" stroke="#2a1c1e" stroke-width="1.6"/>
<line x1="455.3" y1="472" x2="465.7" y2="472" stroke="#2a1c1e" stroke-width="1.6"/>
<rect x="452.20" y="408" width="16.6" height="33.00" fill="#c8877a" stroke="#b57264" stroke-width="0.6"/>
<line x1="452.2" y1="425" x2="468.8" y2="425" stroke="#2a1c1e" stroke-width="1.8"/>
<circle cx="460.5" cy="377" r="2.1" fill="#82111d"/>
<circle cx="460.5" cy="415.6" r="2.1" fill="#82111d"/>
<circle cx="460.5" cy="422.4" r="2.1" fill="#82111d"/>
<circle cx="460.5" cy="427" r="2.1" fill="#82111d"/>
<circle cx="460.5" cy="432.4" r="2.1" fill="#82111d"/>
<circle cx="460.5" cy="472" r="2.1" fill="#82111d"/>
<line x1="490.3" y1="385" x2="490.3" y2="406.4" stroke="#1c2038" stroke-width="1.35"/>
<line x1="490.3" y1="454.4" x2="490.3" y2="489" stroke="#1c2038" stroke-width="1.35"/>
<line x1="485.1" y1="385" x2="495.5" y2="385" stroke="#1c2038" stroke-width="1.6"/>
<line x1="485.1" y1="489" x2="495.5" y2="489" stroke="#1c2038" stroke-width="1.6"/>
<rect x="482.00" y="406.4" width="16.6" height="48.00" fill="#8187b0" stroke="#71779f" stroke-width="0.6"/>
<line x1="482.0" y1="420.4" x2="498.6" y2="420.4" stroke="#1c2038" stroke-width="1.8"/>
<circle cx="490.3" cy="385" r="2.1" fill="#20265a"/>
<circle cx="490" cy="412" r="2.1" fill="#20265a"/>
<circle cx="493.6" cy="419" r="2.1" fill="#20265a"/>
<circle cx="486" cy="422.4" r="2.1" fill="#20265a"/>
<circle cx="490" cy="445" r="2.1" fill="#20265a"/>
<circle cx="490.3" cy="489" r="2.1" fill="#20265a"/>
<line x1="335.4" y1="538.4" x2="387.3" y2="538.4" stroke="#262626" stroke-width="1.5"/>
<line x1="399" y1="538.4" x2="443" y2="538.4" stroke="#262626" stroke-width="1.5"/>
<line x1="455.4" y1="538.4" x2="507.7" y2="538.4" stroke="#262626" stroke-width="1.5"/>
<text transform="translate(342.56,552.51) scale(1.0976,1.0000)" font-size="10.8" fill="#1a1a1a">Control</text>
<text transform="translate(402.70,552.90) scale(1.0386,1.0000)" font-size="10.8" font-style="italic" fill="#1a1a1a">Alk2</text>
<text transform="translate(425.66,547.63) scale(1.2407,1.0000)" font-size="6.8" font-style="italic" style="stroke-width:0.12px" fill="#1a1a1a">fl/fl</text>
<text transform="translate(437.11,553.34) scale(1.2369,1.0000)" font-size="10.8" font-style="italic" fill="#1a1a1a">;</text>
<text transform="translate(463.22,552.90) scale(1.0446,1.0000)" font-size="10.8" font-style="italic" fill="#1a1a1a">Alk3</text>
<text transform="translate(486.41,547.60) scale(1.2753,1.0000)" font-size="6.8" font-style="italic" style="stroke-width:0.12px" fill="#1a1a1a">fl/fl</text>
<text transform="translate(498.13,553.31) scale(1.1609,1.0000)" font-size="10.8" font-style="italic" fill="#1a1a1a">;</text>
<text transform="translate(401.51,567.90) scale(1.1017,1.0000)" font-size="10.8" font-style="italic" fill="#1a1a1a">Alb-Cre</text>
<text transform="translate(461.70,567.90) scale(1.1094,1.0000)" font-size="10.8" font-style="italic" fill="#1a1a1a">Alb-Cre</text>
<text transform="translate(380.50,586.50) scale(0.9970,1.0000)" font-size="10.8" fill="#1a1a1a">PBS</text>
<text transform="translate(426.22,586.50) scale(0.9527,1.0000)" font-size="10.8" fill="#1a1a1a">AAV-HJV</text>
<rect x="367.1" y="579.0" width="7.800000000000001" height="7.800000000000001" fill="#951529" stroke="#7a0f20" stroke-width="0.6"/>
<rect x="412.40000000000003" y="579.0" width="7.800000000000001" height="7.800000000000001" fill="#283676" stroke="#1f2a5e" stroke-width="0.6"/>
<rect x="0.5" y="0.5" width="519" height="599" fill="none" stroke="#202020" stroke-width="1"/>
</svg>
</body></html>
